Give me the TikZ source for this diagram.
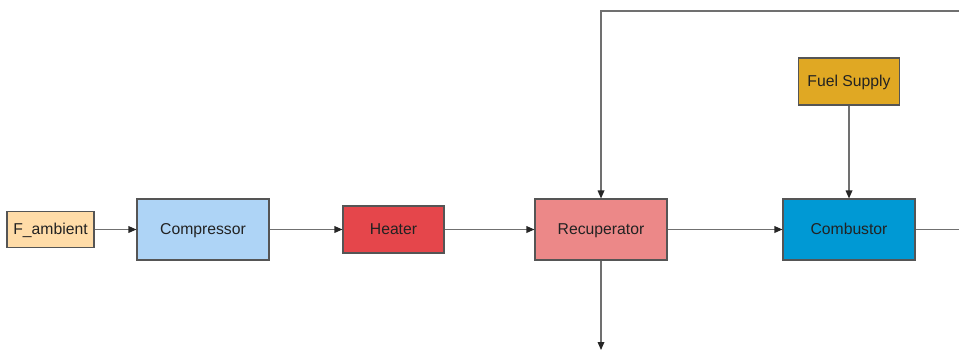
\documentclass[tikz,border=0pt]{standalone}
\usepackage{fontspec}
\setmainfont{Liberation Sans}
\usetikzlibrary{arrows.meta}
\definecolor{cAmb}{HTML}{FFDCA8}
\definecolor{cComp}{HTML}{AED4F6}
\definecolor{cHeat}{HTML}{E5464B}
\definecolor{cRec}{HTML}{EC8888}
\definecolor{cComb}{HTML}{0099D4}
\definecolor{cFuel}{HTML}{E0A823}
\definecolor{cLine}{HTML}{707070}
\definecolor{cBorder}{HTML}{555555}
\definecolor{cText}{HTML}{222222}
\begin{document}
\begin{tikzpicture}[x=0.75pt,y=-0.75pt,
  blk/.style={draw=cBorder,line width=0.8pt,anchor=center,inner sep=0pt,text=cText,
    font=\fontsize{11.8}{14}\selectfont,text depth=0.2ex},
  conn/.style={draw=cLine,line width=0.9pt,-{Triangle[length=6pt,width=5pt,color=black!85]}},
  plain/.style={draw=cLine,line width=0.9pt}]
\useasboundingbox (0,0) rectangle (959,350);
\node[blk,fill=cAmb,minimum width=87*0.75pt,minimum height=36*0.75pt] (amb) at (50.5,229.5) {F\_ambient};
\node[blk,fill=cComp,minimum width=132*0.75pt,minimum height=61*0.75pt] (comp) at (203,229.5) {Compressor};
\node[blk,fill=cHeat,minimum width=101*0.75pt,minimum height=47*0.75pt] (heat) at (393.5,229.5) {Heater};
\node[blk,fill=cRec,minimum width=132*0.75pt,minimum height=61*0.75pt] (rec) at (601,229.5) {Recuperator};
\node[blk,fill=cComb,minimum width=132*0.75pt,minimum height=61*0.75pt] (comb) at (849,229.5) {Combustor};
\node[blk,fill=cFuel,minimum width=101*0.75pt,minimum height=47*0.75pt] (fuel) at (849,81.5) {Fuel Supply};
\coordinate (topR) at (959,11);
\coordinate (topL) at (601,11);
\coordinate (bot) at (601,350);
\coordinate (rightEnd) at (959,229.5);
\draw[conn] (amb.east) -- (comp.west);
\draw[conn] (comp.east) -- (heat.west);
\draw[conn] (heat.east) -- (rec.west);
\draw[conn] (rec.east) -- (comb.west);
\draw[conn] (fuel.south) -- (comb.north);
\draw[conn] (topR) -- (topL) -- (rec.north);
\draw[conn] (rec.south) -- (bot);
\draw[plain] (comb.east) -- (rightEnd);
\end{tikzpicture}
\end{document}
